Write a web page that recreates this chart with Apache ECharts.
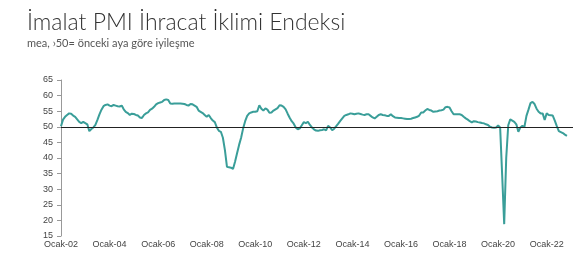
<!DOCTYPE html>
<html>
<head>
<meta charset="utf-8">
<script src="https://cdn.jsdelivr.net/npm/echarts@6/dist/echarts.min.js"></script>
<style>
html,body{margin:0;padding:0;background:#fff;}
#chart{width:588px;height:268px;}
</style>
</head>
<body>
<div id="chart"></div>
<script>
// Monthly categories: Jan 2002 .. Feb 2023
const monthNames = ['Ocak','Şubat','Mart','Nisan','Mayıs','Haziran','Temmuz','Ağustos','Eylül','Ekim','Kasım','Aralık'];
const startYear = 2002;
const monthCount = 254;
const categories = [];
for (let k = 0; k < monthCount; k++) {
  const y = startYear + Math.floor(k / 12);
  categories.push(monthNames[k % 12] + '-' + String(y % 100).padStart(2, '0'));
}

// Export climate index values (Jan 2002 .. Nov 2022)
const exportClimate = [
  50.2, 52.3, 53.2, 53.8, 54.3, 54.2, 53.6, 53.2, 52.4, 51.6, 51.2, 51.6,
  51.2, 50.8, 48.6, 49.3, 49.8, 50.6, 52.2, 54.0, 55.5, 56.6, 57.0, 57.2,
  56.8, 56.6, 57.0, 56.8, 56.6, 56.5, 56.8, 55.6, 54.8, 54.4, 53.8, 54.2,
  54.1, 53.8, 53.6, 53.0, 52.8, 53.8, 54.3, 54.6, 55.4, 55.8, 56.4, 57.2,
  57.6, 57.8, 58.0, 58.6, 58.8, 58.6, 57.5, 57.4, 57.5, 57.5, 57.5, 57.5,
  57.4, 57.3, 57.0, 56.8, 57.3, 57.2, 56.8, 56.4, 55.2, 54.8, 54.4, 53.8,
  53.2, 53.8, 52.8, 52.0, 51.5, 49.8, 48.7, 48.4, 46.5, 42.5, 37.2, 37.0,
  36.9, 36.5, 38.8, 41.5, 44.2, 46.5, 49.5, 51.8, 53.5, 54.3, 54.6, 54.8,
  54.8, 55.0, 56.9, 55.8, 55.2, 55.9, 55.5, 54.5, 54.6, 55.2, 55.6, 56.0,
  56.9, 56.8, 56.4, 55.6, 54.2, 52.9, 51.8, 51.0, 49.8, 49.2, 49.5, 50.5,
  51.5, 51.2, 51.6, 50.6, 49.8, 49.2, 48.8, 48.7, 48.9, 49.0, 49.2, 48.9,
  50.3, 49.8, 48.9, 49.4, 50.2, 51.0, 51.9, 52.7, 53.5, 53.8, 54.0, 54.3,
  54.2, 54.0, 54.2, 54.3, 54.1, 53.9, 53.8, 54.0, 54.0, 53.5, 53.0, 52.7,
  53.2, 53.8, 54.0, 53.8, 53.7, 53.5, 53.5, 54.0, 53.4, 53.0, 52.9, 52.8,
  52.8, 52.7, 52.6, 52.5, 52.5, 52.6, 52.8, 53.0, 53.2, 53.6, 54.6, 54.6,
  55.2, 55.7, 55.4, 55.2, 54.8, 54.9, 55.0, 55.2, 55.3, 55.5, 56.3, 56.4,
  56.2, 55.0, 54.0, 54.0, 54.0, 54.0, 53.8, 53.2, 52.7, 52.3, 51.8, 51.4,
  51.8, 51.7, 51.5, 51.4, 51.2, 51.1, 50.8, 50.6, 50.0, 49.8, 49.7, 49.8,
  50.4, 49.8, 34.5, 18.8, 40.0, 50.5, 52.4, 52.0, 51.6, 50.8, 48.4, 49.8,
  50.3, 50.0, 53.5, 55.5, 57.6, 58.0, 57.3, 55.8, 54.8, 54.3, 54.3, 52.2,
  54.3, 53.8, 53.7, 53.6, 52.0, 50.2, 48.6, 48.3, 48.0, 47.5, 47.1
];

// Reference threshold and y-axis ticks
const threshold = 50;
const yTicks = { min: 15, max: 65, step: 5 };

const chart = echarts.init(document.getElementById('chart'), null, { renderer: 'canvas' });
chart.setOption({
  animation: false,
  backgroundColor: '#ffffff',
  title: {
    text: 'İmalat PMI İhracat İklimi Endeksi',
    subtext: 'mea, ›50= önceki aya göre iyileşme',
    left: 22,
    top: 6,
    itemGap: 4,
    textStyle: { fontFamily: 'Lato', fontWeight: 300, fontSize: 23, color: '#333333' },
    subtextStyle: { fontFamily: 'Lato', fontSize: 11, color: '#555555' }
  },
  grid: { left: 61, right: 15, top: 80, bottom: 32, containLabel: false },
  xAxis: {
    type: 'category',
    data: categories,
    boundaryGap: false,
    axisLine: { show: false },
    axisTick: { show: false },
    axisLabel: {
      interval: function (idx) { return idx % 24 === 0; },
      fontFamily: 'Liberation Sans',
      fontSize: 9,
      color: '#444444',
      margin: 4
    },
    splitLine: { show: false }
  },
  yAxis: {
    type: 'value',
    min: yTicks.min,
    max: yTicks.max,
    interval: yTicks.step,
    axisLine: { show: true, lineStyle: { color: '#999999', width: 1 } },
    axisTick: { show: true, length: 4, lineStyle: { color: '#999999' } },
    axisLabel: { fontFamily: 'Liberation Sans', fontSize: 9, color: '#444444', margin: 8 },
    splitLine: { show: false }
  },
  series: [{
    type: 'line',
    data: exportClimate,
    showSymbol: false,
    symbol: 'none',
    lineStyle: { color: '#3a9e99', width: 2 },
    z: 3,
    markLine: {
      silent: true,
      symbol: 'none',
      label: { show: false },
      lineStyle: { color: '#222222', width: 1, type: 'solid' },
      data: [{ yAxis: threshold }]
    }
  }]
});
</script>
</body>
</html>
